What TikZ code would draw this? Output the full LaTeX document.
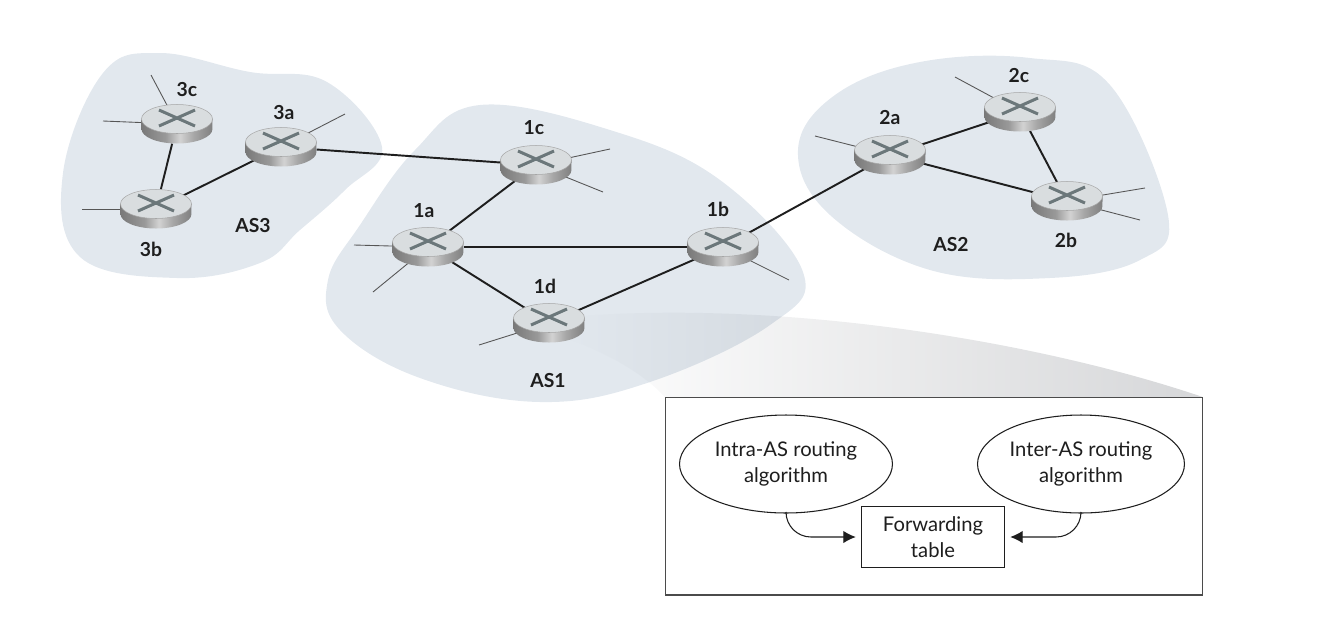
\documentclass[tikz,border=0pt]{standalone}
\usepackage{fontspec}
\setmainfont{Lato}
\usepackage{xcolor}
\usetikzlibrary{shapes.geometric,fadings,arrows.meta}
\definecolor{blobfill}{HTML}{E2E8EE}
\definecolor{wedgefill}{HTML}{D6D7D9}
\definecolor{crossgray}{HTML}{6B777A}
\definecolor{topgray}{HTML}{D9DDDF}
\definecolor{inkgray}{HTML}{1E1E1E}
\pgfdeclarelayer{blobs}
\pgfdeclarelayer{links}
\pgfsetlayers{blobs,links,main}
\pgfdeclarehorizontalshading{routerside}{100bp}{
	color(0bp)=(gray!95!black); color(25bp)=(gray!95!black); color(42bp)=(gray!80);
	color(52bp)=(gray!35); color(62bp)=(gray!70); color(75bp)=(gray!100); color(100bp)=(gray!100)}
\tikzset{
	routershape/.style={ellipse, minimum width=1.42cm, minimum height=0.78cm, inner sep=0pt},
	routerlabel/.style={font=\fontsize{11}{13}\selectfont\bfseries, text=inkgray, inner sep=0pt},
	boxlabel/.style={font=\fontsize{11.5}{15}\selectfont, text=inkgray, align=center, inner sep=0pt},
	link/.style={draw=inkgray, line width=1.1pt},
	stub/.style={draw=inkgray!75, line width=0.5pt},
	flow/.style={draw=inkgray, line width=0.6pt, rounded corners=0.5cm, shorten >=3pt, -{Latex[length=7pt,width=7pt]}},
	outline/.style={draw=inkgray!80, line width=0.6pt, fill=white},
	blob/.style={fill=blobfill, draw=none},
}
\newcommand{\router}[3]{%
	\node[routershape] (#1) at (#2,#3) {};
	\begin{scope}[shift={(#2,#3)}]
		\shade[shading=routerside] (-35.5,-5) -- (-35.5,5) arc[start angle=180, end angle=360, x radius=0.71cm, y radius=0.29cm] -- (35.5,-5) -- cycle;
		\fill[topgray, draw=gray!70, line width=0.3pt] (0,-5) ellipse[x radius=0.71cm, y radius=0.29cm];
		\draw[crossgray, line width=1.7pt] (-18,2) -- (18,-14) (-18,-14) -- (18,2);
	\end{scope}
}
\begin{document}
\begin{tikzpicture}[x=0.02cm, y=-0.02cm]
	\useasboundingbox (0,0) rectangle (1330,630);
	
	\begin{pgfonlayer}{blobs}
		\fill[blob] plot[smooth cycle, tension=0.65] coordinates {(160,53) (250,72) (327,82) (382,147) (345,190) (300,230) (260,263) (177,278) (80,257) (63,173) (103,73)};
		\fill[blob] plot[smooth cycle, tension=0.65] coordinates {(480,105) (610,130) (720,180) (803,272) (770,325) (650,382) (540,402) (420,378) (340,330) (328,280) (360,225) (415,150)};
		\fill[blob] plot[smooth cycle, tension=0.65] coordinates {(798,150) (835,95) (920,62) (1030,58) (1110,85) (1168,215) (1140,260) (1050,278) (930,270) (830,215)};
		\fill[wedgefill, path fading=west, blend mode=multiply] (580,316) .. controls (800,300) and (1050,345) .. (1203,397) -- (665,397) .. controls (640,370) and (600,350) .. (565,338) -- cycle;
	\end{pgfonlayer}
	
	\foreach \name/\x/\y in {3c/177/124, 3a/281/147, 3b/156/209, 1c/536/165, 1a/428/247, 1b/723/247, 1d/549/323, 2a/890/155, 2c/1020/112, 2b/1067/201} {
		\router{\name}{\x}{\y}
	}
	
	\foreach \name/\x/\y in {e1/151/75, e2/103/121, e3/345/114, e4/82/209, e5/610/149, e6/603/192, e7/354/245, e8/373/292, e9/789/280, e10/479/345, e11/815/136, e12/955/77, e13/1145/188, e14/1140/220} {
		\coordinate (\name) at (\x,\y);
	}
	
	\begin{pgfonlayer}{links}
		\foreach \s/\t in {3c/3b, 3b/3a, 3a/1c, 1c/1a, 1a/1b, 1a/1d, 1d/1b, 1b/2a, 2a/2c, 2a/2b, 2c/2b} {
			\draw[link] (\s) -- (\t);
		}
		\foreach \s/\t in {3c/e1, 3c/e2, 3a/e3, 3b/e4, 1c/e5, 1c/e6, 1a/e7, 1a/e8, 1b/e9, 1d/e10, 2a/e11, 2c/e12, 2b/e13, 2b/e14} {
			\draw[stub] (\s) -- (\t);
		}
	\end{pgfonlayer}
	
	\foreach \name/\x/\y/\txt in {l3c/187/90/3c, l3a/284/113/3a, l3b/151/249/3b, as3/253/226/AS3, l1c/534/128/1c, l1a/424/211/1a, l1b/718/209/1b, l1d/545/286/1d, as1/548/381/AS1, l2a/890/118/2a, l2c/1019/76/2c, l2b/1066/240/2b, as2/951/245/AS2} {
		\node[routerlabel] (\name) at (\x,\y) {\txt};
	}
	
	\node[outline, rectangle, minimum width=10.76cm, minimum height=3.96cm] (panel) at (934,496) {};
	\node[boxlabel, draw=inkgray, line width=0.6pt, ellipse, minimum width=4.26cm, minimum height=1.96cm] (intra) at (786,464) {Intra-AS routing\\algorithm};
	\node[boxlabel, draw=inkgray, line width=0.6pt, ellipse, minimum width=4.14cm, minimum height=1.96cm] (inter) at (1081,464) {Inter-AS routing\\algorithm};
	\node[boxlabel, draw=inkgray, line width=0.6pt, rectangle, fill=white, minimum width=2.86cm, minimum height=1.22cm] (table) at (933,537) {Forwarding\\table};
	\draw[flow] (intra.south) |- (table.west);
	\draw[flow] (inter.south) |- (table.east);
\end{tikzpicture}
\end{document}
